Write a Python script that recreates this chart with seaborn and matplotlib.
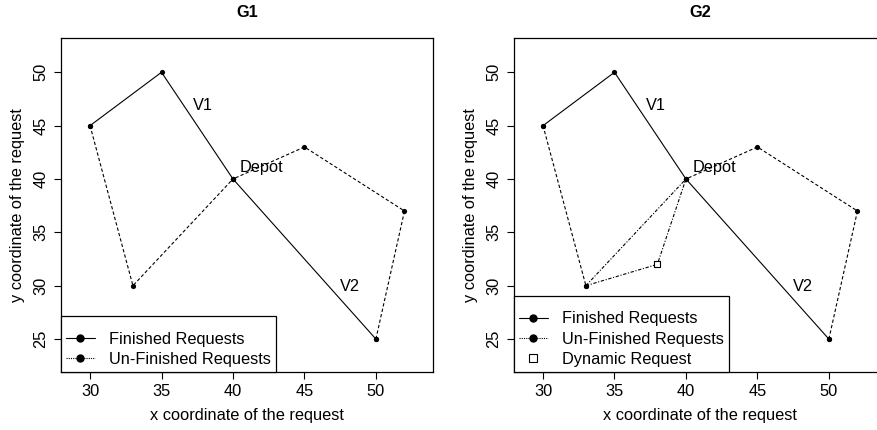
import numpy as np
import pandas as pd
import matplotlib
matplotlib.use("Agg")
import matplotlib.pyplot as plt
import seaborn as sns
from matplotlib.lines import Line2D

# request coordinates
v1_done_x = [40, 35, 30]
v1_done_y = [40, 50, 45]
v1_todo_x = [30, 33, 40]
v1_todo_y = [45, 30, 40]
v2_done_x = [40, 50]
v2_done_y = [40, 25]
v2_todo_x = [50, 52, 45, 40]
v2_todo_y = [25, 37, 43, 40]
dyn_x = [38]
dyn_y = [32]
v1_new_x = [33, 38, 40]
v1_new_y = [30, 32, 40]

xticks = [30, 35, 40, 45, 50]
yticks = [25, 30, 35, 40, 45, 50]

FS = 11.8

sns.set_style("ticks")
plt.rcParams["font.family"] = ["Liberation Sans", "DejaVu Sans"]
plt.rcParams["font.size"] = FS
plt.rcParams["text.color"] = "black"
plt.rcParams["axes.labelcolor"] = "black"
plt.rcParams["xtick.color"] = "black"
plt.rcParams["ytick.color"] = "black"

fig = plt.figure(figsize=(8.77, 4.30), dpi=100)
ax1 = fig.add_axes([0.0696, 0.1356, 0.4242, 0.7767])
ax2 = fig.add_axes([0.5861, 0.1356, 0.4242, 0.7767])


def route(ax, xs, ys, ls, lw=0.8):
  df = pd.DataFrame({"x": xs, "y": ys})
  sns.lineplot(data=df, x="x", y="y", sort=False, estimator=None,
               color="black", linestyle=ls, linewidth=lw, ax=ax)
  sns.scatterplot(data=df, x="x", y="y", color="black", s=14,
                  edgecolor="black", linewidth=0, ax=ax, zorder=3)


dashed = (0, (3, 2))
dashdot = (0, (3, 1.5, 1, 1.5))

for ax, title in [(ax1, "G1"), (ax2, "G2")]:
  route(ax, v1_done_x, v1_done_y, "-")
  route(ax, v2_done_x, v2_done_y, "-")
  if ax is ax1:
    route(ax, v1_todo_x, v1_todo_y, dashed)
  else:
    route(ax, v1_todo_x[:2], v1_todo_y[:2], dashed)
    route(ax, v1_todo_x[1:], v1_todo_y[1:], dashdot)
  route(ax, v2_todo_x, v2_todo_y, dashed)
  ax.text(37.9, 46.9, "V1", ha="center", va="center", fontsize=FS)
  ax.text(48.2, 29.9, "V2", ha="center", va="center", fontsize=FS)
  ax.text(40.45, 41.1, "Depot", ha="left", va="center", fontsize=FS)
  ax.set_xlim(27.97, 54.0)
  ax.set_ylim(21.94, 53.24)
  ax.set_xticks(xticks)
  ax.set_yticks(yticks)
  ax.set_yticklabels([str(t) for t in yticks], rotation=90, va="center")
  ax.tick_params(direction="out", length=5, width=0.8, labelsize=FS, pad=4)
  ax.set_title(title, fontweight="bold", fontsize=FS, pad=15)
  for s in ax.spines.values():
    s.set_visible(True)
    s.set_linewidth(0.9)
    s.set_color("black")

# dynamic request and new path in G2
df_new = pd.DataFrame({"x": v1_new_x, "y": v1_new_y})
sns.lineplot(data=df_new, x="x", y="y", sort=False, estimator=None,
             color="black", linestyle=dashdot, linewidth=0.8, ax=ax2)
df_dyn = pd.DataFrame({"x": dyn_x, "y": dyn_y})
sns.scatterplot(data=df_dyn, x="x", y="y", marker="s", s=16,
                facecolor="white", edgecolor="black", linewidth=0.8,
                ax=ax2, zorder=4)
for ax in (ax1, ax2):
  ax.set_xlabel("x coordinate of the request", fontsize=FS, labelpad=6)
  ax.set_ylabel("y coordinate of the request", fontsize=FS, labelpad=6)

h_done = Line2D([], [], color="black", lw=0.8, ls="-", marker="o", ms=5)
h_todo = Line2D([], [], color="black", lw=0.8, ls=(0, (1, 1)), marker="o", ms=5)
h_dyn = Line2D([], [], color="black", lw=0, marker="s", ms=5.5,
               markerfacecolor="white", markeredgewidth=0.8)

for ax, handles, labels in [
    (ax1, [h_done, h_todo], ["Finished Requests", "Un-Finished Requests"]),
    (ax2, [h_done, h_todo, h_dyn],
     ["Finished Requests", "Un-Finished Requests", "Dynamic Request"])]:
  leg = ax.legend(handles, labels, loc="lower left", borderaxespad=0,
                  frameon=True, fancybox=False, edgecolor="black",
                  framealpha=1, fontsize=FS, handlelength=1.75,
                  handletextpad=0.9, labelspacing=0.32, borderpad=0.3,
                  title=" ", title_fontsize=4)
  leg.get_frame().set_linewidth(0.9)

fig.savefig("out.png", dpi=100)
